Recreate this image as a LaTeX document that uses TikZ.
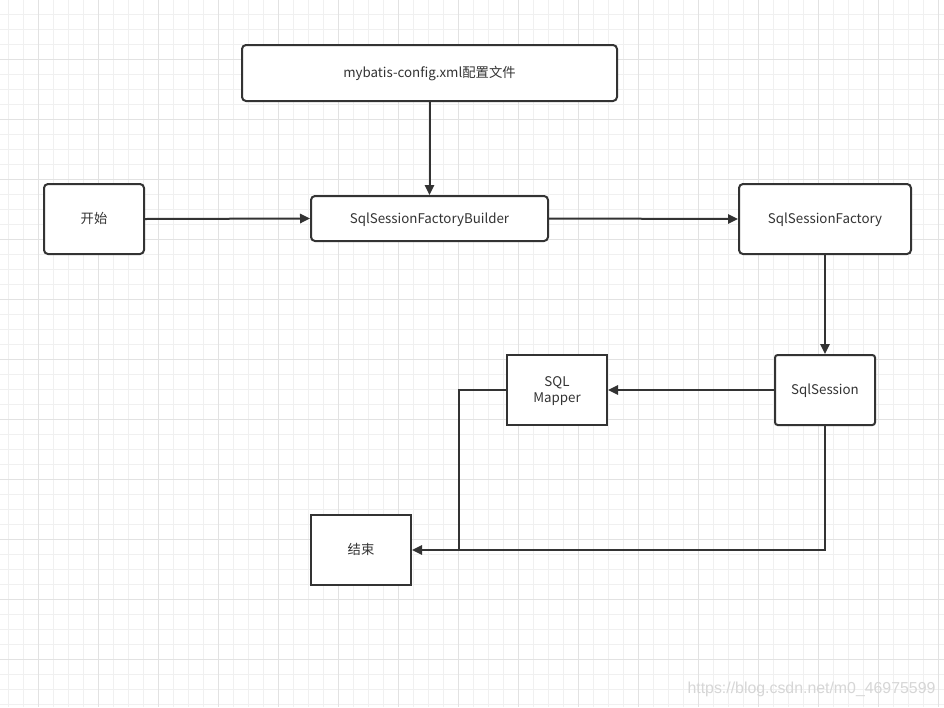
\documentclass[tikz,border=0pt]{standalone}
\usepackage{fontspec}
\setmainfont{Noto Sans CJK SC}
\newfontfamily\wmfont{Liberation Sans}
\usetikzlibrary{arrows.meta}
\definecolor{ln}{HTML}{333333}
\definecolor{gminor}{HTML}{F0F0F0}
\definecolor{gmajor}{HTML}{E2E2E2}
\definecolor{wm}{HTML}{D6D6D6}
\newcommand{\lbl}[1]{\raisebox{-1.3pt}[\height][\depth]{\begin{tabular}{@{}c@{}}#1\end{tabular}}}
\tikzset{
  box/.style={draw=ln, line width=1.5pt, fill=white, rounded corners=3pt, font=\fontsize{10pt}{12pt}\selectfont, text=ln, align=center, inner sep=0pt},
  sqbox/.style={box, rounded corners=0pt},
  conn/.style={draw=ln, line width=1.5pt, -{Triangle[length=7.5pt,width=7pt]}},
  plain/.style={draw=ln, line width=1.5pt}
}
\begin{document}
\begin{tikzpicture}[x=0.75pt,y=-0.75pt]
\useasboundingbox (0,0) rectangle (944,707);
\fill[white] (0,0) rectangle (944,707);
% grid
\foreach \i in {0,...,62} {
  \pgfmathsetmacro{\xx}{8.3+15*\i}
  \draw[gminor, line width=0.75pt] (\xx,0) -- (\xx,707);
}
\foreach \i in {0,...,47} {
  \pgfmathsetmacro{\yy}{14.3+15*\i}
  \draw[gminor, line width=0.75pt] (0,\yy) -- (944,\yy);
}
\foreach \i in {0,...,15} {
  \pgfmathsetmacro{\xx}{38.3+60*\i}
  \draw[gmajor, line width=0.75pt] (\xx,0) -- (\xx,707);
}
\foreach \i in {0,...,11} {
  \pgfmathsetmacro{\yy}{59.3+60*\i}
  \draw[gmajor, line width=0.75pt] (0,\yy) -- (944,\yy);
}
% nodes
\node[box, minimum width=375*0.75pt, minimum height=56*0.75pt] (cfg) at (429.5,73) {\lbl{mybatis-config.xml配置文件}};
\node[box, minimum width=100*0.75pt, minimum height=70*0.75pt] (start) at (94,219) {\lbl{开始}};
\node[box, minimum width=237*0.75pt, minimum height=45*0.75pt] (bld) at (429.5,218.5) {\lbl{SqlSessionFactoryBuilder}};
\node[box, minimum width=172*0.75pt, minimum height=70*0.75pt] (fac) at (825,219) {\lbl{SqlSessionFactory}};
\node[box, rounded corners=2pt, minimum width=100*0.75pt, minimum height=70*0.75pt] (ses) at (825,390) {\lbl{SqlSession}};
\node[sqbox, minimum width=100*0.75pt, minimum height=70*0.75pt] (map) at (557,390) {\lbl{SQL\\Mapper}};
\node[sqbox, minimum width=100*0.75pt, minimum height=70*0.75pt] (end) at (361,550) {\lbl{结束}};
\coordinate (j) at (459,549);
% connectors
\draw[conn] (cfg.south) -- (bld.north);
\draw[conn] (start.east) -- (bld.west);
\draw[conn] (bld.east) -- (fac.west);
\draw[conn] (fac.south) -- (ses.north);
\draw[conn] (ses.west) -- (map.east);
\draw[plain] (map.west) -| (j);
\draw[conn] (ses.south) |- (end.east);
% watermark
\node[font=\wmfont\fontsize{11.9pt}{13pt}\selectfont, text=wm, inner sep=0pt] (wmk) at (811.5,689.5) {https://blog.csdn.net/m0\_46975599};
\end{tikzpicture}
\end{document}
